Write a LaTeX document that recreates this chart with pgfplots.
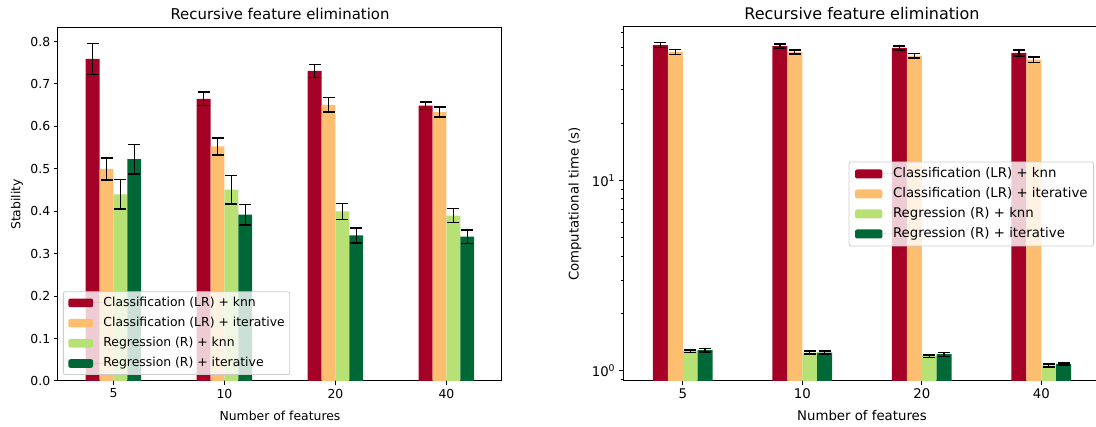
\documentclass[border=0pt]{standalone}
\usepackage{fontspec}
\setmainfont{DejaVu Sans}
\usepackage{pgfplots}
\pgfplotsset{compat=1.18}
\definecolor{cA}{HTML}{A50026}
\definecolor{cB}{HTML}{FDBF6F}
\definecolor{cC}{HTML}{B7E075}
\definecolor{cD}{HTML}{006837}
\pgfplotsset{
  mpl/.style={
    scale only axis,
    axis line style={line width=1pt, black},
    tick style={black, line width=1pt},
    major tick length=4.3pt, minor tick length=2.5pt,
    tick align=outside,
    xtick pos=bottom, ytick pos=left,
    xmin=-0.5, xmax=3.5, xtick={0,1,2,3}, xticklabels={5,10,20,40},
    ybar, bar width=0.125,
    legend cell align=left,
  },
  errb/.style={error bars/.cd, y dir=both, y explicit,
    error bar style={draw=black, line width=1.4pt},
    error mark options={draw=black, rotate=90, mark size=6pt, line width=1.4pt}},
}
\begin{document}
\begin{tikzpicture}
% ---------- left ----------
\begin{axis}[mpl,
  at={(58pt,-28pt)}, anchor=north west, width=444pt, height=353pt,
  ymin=0, ymax=0.832,
  ytick={0,0.1,0.2,0.3,0.4,0.5,0.6,0.7,0.8},
  yticklabels={0.0,0.1,0.2,0.3,0.4,0.5,0.6,0.7,0.8},
  tick label style={font=\fontsize{12.4}{14}\selectfont},
  title={Recursive feature elimination},
  title style={font=\fontsize{14.9}{17}\selectfont, at={(axis description cs:0.5,1)}, anchor=center, yshift=8pt},
  xlabel={Number of features},
  xlabel style={font=\fontsize{12.4}{14}\selectfont, at={(axis description cs:0.5,0)}, anchor=center, yshift=-35pt},
  ylabel={Stability},
  ylabel style={font=\fontsize{12.4}{14}\selectfont, at={(axis description cs:0,0.5)}, anchor=center, yshift=41pt},
  legend image code/.code={\fill[#1, fill opacity=1] (0pt,-4.3pt) rectangle (24.7pt,4.3pt); \path (0pt,0pt) -- (35pt,0pt);},
  legend style={at={(axis description cs:0,0)}, anchor=south west, xshift=5pt, yshift=6pt,
    draw=black!20, line width=0.8pt, rounded corners=2pt, fill=white, fill opacity=0.8, text opacity=1, draw opacity=1,
    font=\fontsize{12.4}{14}\selectfont, inner xsep=5pt, inner ysep=1pt, row sep=0pt,
    nodes={inner xsep=0pt, inner ysep=3.1pt, text height=10.5pt, text depth=3.5pt}},
]
\addplot[fill=cA, draw=none, bar shift=-0.1875, errb] coordinates {
  (0,0.759) +- (0,0.037) (1,0.665) +- (0,0.016) (2,0.731) +- (0,0.015) (3,0.649) +- (0,0.009)};
\addplot[fill=cB, draw=none, bar shift=-0.0625, errb] coordinates {
  (0,0.500) +- (0,0.026) (1,0.553) +- (0,0.020) (2,0.651) +- (0,0.017) (3,0.634) +- (0,0.012)};
\addplot[fill=cC, draw=none, bar shift=0.0625, errb] coordinates {
  (0,0.440) +- (0,0.035) (1,0.451) +- (0,0.034) (2,0.400) +- (0,0.019) (3,0.390) +- (0,0.016)};
\addplot[fill=cD, draw=none, bar shift=0.1875, errb] coordinates {
  (0,0.523) +- (0,0.035) (1,0.392) +- (0,0.024) (2,0.343) +- (0,0.018) (3,0.340) +- (0,0.016)};
\legend{Classification (LR) + knn, Classification (LR) + iterative, Regression (R) + knn, Regression (R) + iterative}
\end{axis}
% ---------- right ----------
\begin{axis}[mpl,
  at={(623pt,-27pt)}, anchor=north west, width=478pt, height=354pt,
  ymode=log, log origin=infty, ymin=0.886, ymax=63.8,
  ytick={1,10}, yticklabels={10\textsuperscript{0},10\textsuperscript{1}},
  minor ytick={0.9,2,3,4,5,6,7,8,9,20,30,40,50,60},
  tick label style={font=\fontsize{13.3}{15}\selectfont},
  title={Recursive feature elimination},
  title style={font=\fontsize{16}{18}\selectfont, at={(axis description cs:0.5,1)}, anchor=center, yshift=7pt},
  xlabel={Number of features},
  xlabel style={font=\fontsize{13.3}{15}\selectfont, at={(axis description cs:0.5,0)}, anchor=center, yshift=-35pt},
  ylabel={Computational time (s)},
  ylabel style={font=\fontsize{13.3}{15}\selectfont, at={(axis description cs:0,0.5)}, anchor=center, yshift=48pt},
  legend image code/.code={\fill[#1, fill opacity=1] (0pt,-4.5pt) rectangle (27.3pt,4.5pt); \path (0pt,0pt) -- (38pt,0pt);},
  legend style={at={(axis description cs:1,0.5)}, anchor=east, xshift=-7pt,
    draw=black!20, line width=0.8pt, rounded corners=2pt, fill=white, fill opacity=0.8, text opacity=1, draw opacity=1,
    font=\fontsize{13.3}{15}\selectfont, inner xsep=6pt, inner ysep=2pt, row sep=0pt,
    nodes={inner xsep=0pt, inner ysep=2.7pt, text height=11pt, text depth=3.6pt}},
]
\addplot[fill=cA, draw=none, bar shift=-0.1875, errb] coordinates {
  (0,51.3) +- (0,1.6) (1,50.7) +- (0,1.3) (2,49.5) +- (0,1.3) (3,46.6) +- (0,1.6)};
\addplot[fill=cB, draw=none, bar shift=-0.0625, errb] coordinates {
  (0,47.2) +- (0,1.3) (1,47.2) +- (0,1.2) (2,45.1) +- (0,1.3) (3,43.0) +- (0,1.4)};
\addplot[fill=cC, draw=none, bar shift=0.0625, errb] coordinates {
  (0,1.27) +- (0,0.02) (1,1.25) +- (0,0.02) (2,1.195) +- (0,0.015) (3,1.07) +- (0,0.02)};
\addplot[fill=cD, draw=none, bar shift=0.1875, errb] coordinates {
  (0,1.285) +- (0,0.025) (1,1.25) +- (0,0.025) (2,1.224) +- (0,0.03) (3,1.088) +- (0,0.012)};
\legend{Classification (LR) + knn, Classification (LR) + iterative, Regression (R) + knn, Regression (R) + iterative}
\end{axis}
\pgfresetboundingbox
\useasboundingbox (0pt,0pt) rectangle (1096pt,-427pt);
\end{tikzpicture}
\end{document}
